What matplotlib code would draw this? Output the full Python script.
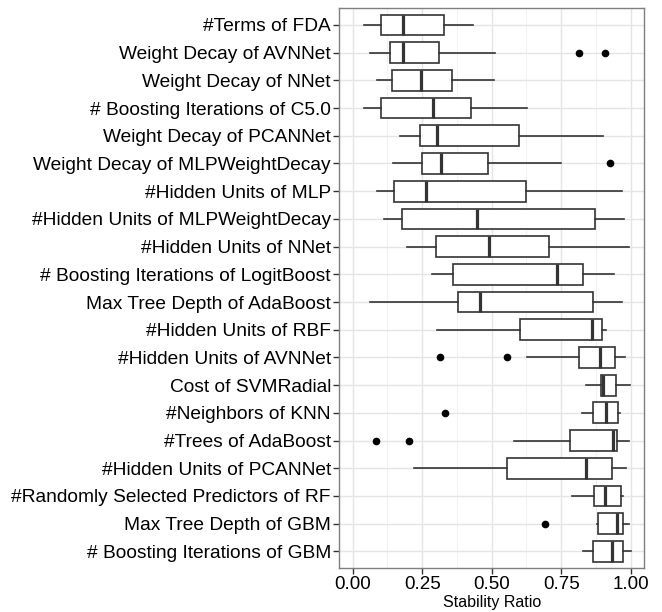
import matplotlib
matplotlib.use("Agg")
import matplotlib.pyplot as plt
import numpy as np

plt.rcParams['font.family'] = ['Liberation Sans', 'DejaVu Sans']

# parameter names, top to bottom
params = ['#Terms of FDA', 'Weight Decay of AVNNet', 'Weight Decay of NNet',
          '# Boosting Iterations of C5.0', 'Weight Decay of PCANNet',
          'Weight Decay of MLPWeightDecay', '#Hidden Units of MLP',
          '#Hidden Units of MLPWeightDecay', '#Hidden Units of NNet',
          '# Boosting Iterations of LogitBoost', 'Max Tree Depth of AdaBoost',
          '#Hidden Units of RBF', '#Hidden Units of AVNNet', 'Cost of SVMRadial',
          '#Neighbors of KNN', '#Trees of AdaBoost', '#Hidden Units of PCANNet',
          '#Randomly Selected Predictors of RF', 'Max Tree Depth of GBM',
          '# Boosting Iterations of GBM']

# five-number summaries
whislo = [0.042, 0.062, 0.086, 0.042, 0.171, 0.146, 0.086, 0.114, 0.195, 0.285,
          0.062, 0.302, 0.626, 0.839, 0.824, 0.579, 0.221, 0.788, 0.880, 0.830]
q1 = [0.103, 0.134, 0.140, 0.101, 0.242, 0.249, 0.150, 0.179, 0.301, 0.360,
      0.379, 0.602, 0.814, 0.893, 0.866, 0.782, 0.554, 0.868, 0.884, 0.866]
med = [0.182, 0.181, 0.246, 0.288, 0.302, 0.319, 0.265, 0.448, 0.491, 0.735,
       0.457, 0.860, 0.889, 0.899, 0.910, 0.937, 0.839, 0.907, 0.951, 0.934]
q3 = [0.328, 0.312, 0.356, 0.426, 0.598, 0.487, 0.623, 0.870, 0.707, 0.830,
      0.866, 0.898, 0.944, 0.946, 0.953, 0.952, 0.933, 0.964, 0.971, 0.971]
whishi = [0.432, 0.511, 0.510, 0.627, 0.902, 0.749, 0.968, 0.977, 0.993, 0.940,
          0.968, 0.912, 0.980, 0.998, 0.962, 0.995, 0.983, 0.971, 0.993, 1.000]
outliers = [[], [0.815, 0.906], [], [], [], [0.926], [], [], [], [],
            [], [], [0.314, 0.556], [], [0.333], [0.083, 0.201], [], [], [0.693], []]

stats = []
for i in range(len(params)):
    stats.append(dict(label=params[i], whislo=whislo[i], q1=q1[i], med=med[i],
                      q3=q3[i], whishi=whishi[i], fliers=outliers[i]))

fig = plt.figure(figsize=(6.62, 6.12), dpi=100)
ax = fig.add_axes([0.5125, 0.0719, 0.9733 - 0.5125, 0.9864 - 0.0719])

n = len(params)
pos = np.arange(n)
ax.bxp(stats, positions=pos, vert=False, widths=0.75, patch_artist=True,
       showcaps=False,
       boxprops=dict(facecolor='white', edgecolor='#333333', linewidth=1.2),
       medianprops=dict(color='#333333', linewidth=2.3),
       whiskerprops=dict(color='#333333', linewidth=1.2),
       flierprops=dict(marker='o', markerfacecolor='black', markeredgecolor='black',
                       markersize=4.5))

ax.set_ylim(n - 1 + 0.6, -0.6)
ax.set_xlim(-0.048, 1.049)
ax.set_xticks([0, 0.25, 0.5, 0.75, 1.0])
ax.set_xticklabels(['0.00', '0.25', '0.50', '0.75', '1.00'], fontsize=13.5)
ax.set_xticks([0.125, 0.375, 0.625, 0.875], minor=True)
ax.set_yticks(pos)
ax.set_yticklabels(params, fontsize=13.8)

ax.grid(True, which='major', color='#e5e5e5', linewidth=1.0, zorder=0)
ax.grid(True, which='minor', axis='x', color='#f2f2f2', linewidth=0.8, zorder=0)
ax.set_axisbelow(True)
ax.tick_params(which='major', length=4, width=1, color='#333333', pad=2)
ax.tick_params(which='minor', length=0)
for s in ax.spines.values():
    s.set_color('#7f7f7f')
    s.set_linewidth(1)

ax.set_xlabel('Stability Ratio', fontsize=11.5, labelpad=1.5)

fig.savefig('out.png', dpi=100)
